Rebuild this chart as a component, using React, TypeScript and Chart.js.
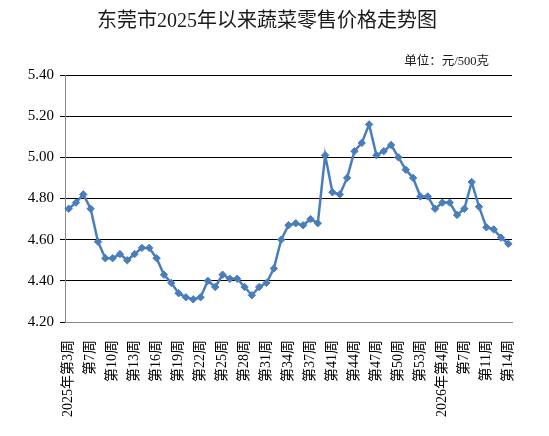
import React, { useEffect, useRef } from "react";
import { Chart, registerables } from "chart.js";

Chart.register(...registerables);

const TITLE = "东莞市2025年以来蔬菜零售价格走势图";
const UNIT = "单位：元/500克";

const weeks: string[] = [
  "2025年第3周", "第4周", "第6周", "第7周", "第8周", "第9周", "第10周", "第11周", "第12周", "第13周",
  "第14周", "第15周", "第16周", "第17周", "第18周", "第19周", "第20周", "第21周", "第22周", "第23周",
  "第24周", "第25周", "第26周", "第27周", "第28周", "第29周", "第30周", "第31周", "第32周", "第33周",
  "第34周", "第35周", "第36周", "第37周", "第38周", "第39周", "第41周", "第42周", "第43周", "第44周",
  "第45周", "第46周", "第47周", "第48周", "第49周", "第50周", "第51周", "第52周", "第53周", "第2周",
  "第3周", "2026年第4周", "第5周", "第6周", "第7周", "第9周", "第10周", "第11周", "第12周", "第13周",
  "第14周",
];

const prices: number[] = [
  4.75, 4.78, 4.82, 4.75, 4.59, 4.51, 4.51, 4.53, 4.50, 4.53,
  4.56, 4.56, 4.51, 4.43, 4.39, 4.34, 4.32, 4.31, 4.32, 4.40,
  4.37, 4.43, 4.41, 4.41, 4.37, 4.33, 4.37, 4.39, 4.46, 4.60,
  4.67, 4.68, 4.67, 4.70, 4.68, 5.01, 4.83, 4.82, 4.90, 5.03,
  5.07, 5.16, 5.01, 5.03, 5.06, 5.00, 4.94, 4.90, 4.81, 4.81,
  4.75, 4.78, 4.78, 4.72, 4.75, 4.88, 4.76, 4.66, 4.65, 4.61,
  4.58,
];

const Y_MIN = 4.2;
const Y_MAX = 5.4;
const Y_STEP = 0.1;

const FONT = '"Liberation Serif", "Noto Sans CJK SC", serif';

const textPlugin = {
  id: "titleTexts",
  afterDraw(chart: any) {
    const ctx = chart.ctx;
    ctx.save();
    ctx.fillStyle = "#1a1a1a";
    ctx.textBaseline = "middle";
    ctx.textAlign = "center";
    ctx.font = `20px ${FONT}`;
    ctx.fillText(TITLE, 267, 22);
    ctx.textAlign = "right";
    ctx.font = `12.5px ${FONT}`;
    ctx.fillText(UNIT, 489, 62);
    ctx.restore();
  },
};

export default function App() {
  const ref = useRef<HTMLCanvasElement | null>(null);

  useEffect(() => {
    document.body.style.margin = "0";
    const canvas = ref.current;
    if (!canvas) return;
    const chart = new Chart(canvas, {
      type: "line",
      data: {
        labels: weeks,
        datasets: [
          {
            data: prices,
            borderColor: "#4A7EBB",
            backgroundColor: "#4A7EBB",
            borderWidth: 2.5,
            pointStyle: "rectRot",
            pointRadius: 3.7,
            pointBorderWidth: 1,
            tension: 0,
          },
        ],
      },
      options: {
        animation: false,
        responsive: false,
        devicePixelRatio: 1,
        layout: { padding: { left: 0, right: 37, top: 75, bottom: 0 } },
        plugins: {
          legend: { display: false },
          title: { display: false },
          tooltip: { enabled: false },
        },
        scales: {
          x: {
            offset: true,
            grid: { display: false },
            border: { display: true, color: "#888", width: 1 },
            ticks: {
              autoSkip: false,
              minRotation: 90,
              maxRotation: 90,
              padding: 10,
              color: "#000",
              font: { family: FONT, size: 14 },
              callback: (_v: any, i: number) => (i % 3 === 0 ? weeks[i] : ""),
            },
            afterFit: (scale: any) => {
              scale.height = 114;
            },
          },
          y: {
            min: Y_MIN,
            max: Y_MAX,
            grid: { color: "#000", lineWidth: 1, tickLength: 5 },
            border: { display: true, color: "#888", width: 1 },
            ticks: {
              stepSize: Y_STEP,
              padding: 6,
              color: "#000",
              font: { family: FONT, size: 15 },
              callback: (v: any) => Number(v).toFixed(2),
            },
            afterFit: (scale: any) => {
              scale.width = 65;
            },
          },
        },
      },
      plugins: [textPlugin],
    });
    return () => chart.destroy();
  }, []);

  return (
    <div style={{ width: 549, height: 436 }}>
      <canvas ref={ref} width={549} height={436} />
    </div>
  );
}
